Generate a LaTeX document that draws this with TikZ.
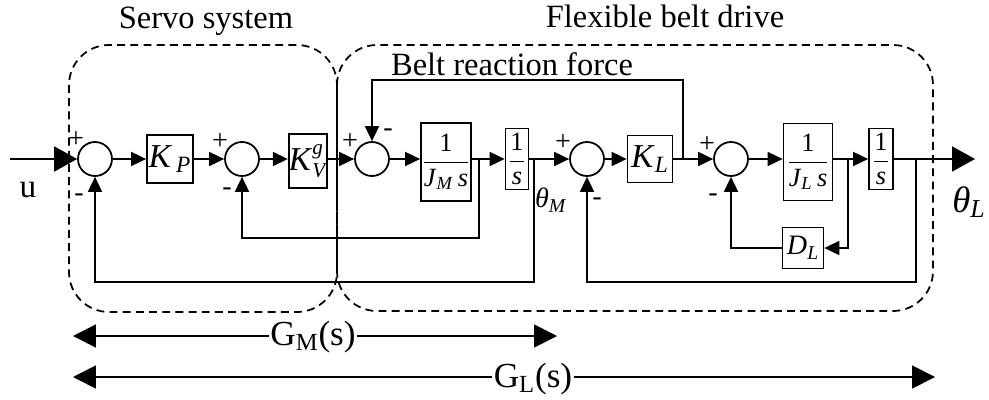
\documentclass[tikz,border=0pt]{standalone}
\usepackage{fontspec}
\setmainfont{Liberation Serif}
\usetikzlibrary{arrows.meta}
\newcommand{\setfs}[1]{\fontsize{#1}{#1}\selectfont}

\begin{document}
\begin{tikzpicture}[
    x=0.02cm, y=-0.02cm,
    line width=1pt,
    every node/.style={inner sep=0pt},
    sumnode/.style={draw, circle, minimum size=0.68cm},
    blockbox/.style={draw, fill=white, font=\setfs{19}},
    fracbox/.style={draw, fill=white, font=\setfs{15}},
    sign/.style={font=\setfs{16}},
    title/.style={font=\setfs{18.5}, anchor=base},
    sig/.style={-{Triangle[length=0.3cm,width=0.28cm]}},
    bigsig/.style={-{Triangle[length=0.46cm,width=0.5cm]}},
    spanarrow/.style={{Triangle[length=0.46cm,width=0.46cm]}-{Triangle[length=0.46cm,width=0.46cm]}},
    group/.style={dash pattern=on 4.5pt off 3pt, rounded corners=0.8cm}
]
  \useasboundingbox (0,0) rectangle (989,399);

  % subsystem frames
  \draw[group] (69,45) rectangle (337,312);
  \draw[group] (337,45) rectangle (933,311);
  \node[title] (servo) at (206,29) {Servo system};
  \node[title] (belt) at (665,28) {Flexible belt drive};
  \node[title] (force) at (512,75) {Belt reaction force};

  % forward path
  \coordinate (in) at (10,159);
  \node[sumnode] (sumA) at (95,159) {};
  \node[blockbox, minimum width=0.92cm, minimum height=0.96cm] (kp) at (170,159) {\textit{K}\textsubscript{\,\textit{P}}};
  \node[sumnode] (sumB) at (242,159) {};
  \node[blockbox, minimum width=0.76cm, minimum height=1.08cm] (kv) at (308,161) {\textit{K}\raisebox{-4pt}{\setfs{12}\shortstack[l]{\textit{g}\\\textit{V}}}};
  \node[sumnode] (sumC) at (372,159) {};
  \node[fracbox, minimum width=1.0cm, minimum height=1.56cm] (jm) at (446,162) {$\displaystyle\frac{\mbox{1}}{\mbox{\textit{J}\textsubscript{\textit{M}}\,\textit{s}}}$};
  \node[fracbox, minimum width=0.46cm, minimum height=1.22cm] (intM) at (517,159) {$\displaystyle\frac{\mbox{1}}{\mbox{\textit{s}}}$};
  \node[sumnode] (sumD) at (587,159) {};
  \node[blockbox, minimum width=0.9cm, minimum height=0.94cm] (kl) at (650,159) {\textit{K}\textsubscript{\textit{L}}};
  \node[sumnode] (sumE) at (731,159) {};
  \node[fracbox, minimum width=0.98cm, minimum height=1.54cm] (jl) at (808,162) {$\displaystyle\frac{\mbox{1}}{\mbox{\textit{J}\textsubscript{\textit{L}}\,\textit{s}}}$};
  \node[fracbox, minimum width=0.48cm, minimum height=1.22cm] (intL) at (881,159) {$\displaystyle\frac{\mbox{1}}{\mbox{\textit{s}}}$};
  \node[fracbox, font=\setfs{16}, minimum width=0.82cm, minimum height=0.82cm] (dl) at (803,248) {\textit{D}\textsubscript{\textit{L}}};
  \coordinate (out) at (975,159);

  % branch points
  \coordinate (bV) at (479,159);
  \coordinate (thM) at (534,159);
  \coordinate (bF) at (683,159);
  \coordinate (bD) at (848,159);
  \coordinate (thL) at (916,159);

  \draw[bigsig] (in) -- (sumA);
  \draw[sig] (sumA) -- (kp);
  \draw[sig] (kp) -- (sumB);
  \draw[sig] (sumB) -- (sumB -| kv.west);
  \draw[sig] (sumC -| kv.east) -- (sumC);
  \draw[sig] (sumC) -- (sumC -| jm.west);
  \draw[sig] (bV -| jm.east) -- (intM);
  \draw[sig] (intM) -- (sumD);
  \draw[sig] (sumD) -- (kl);
  \draw[sig] (kl) -- (sumE);
  \draw[sig] (sumE) -- (sumE -| jl.west);
  \draw[sig] (bD -| jl.east) -- (intL);
  \draw[bigsig] (intL) -- (out);

  % feedback paths
  \draw[sig] (bV) -- ++(0,79) -| (sumB);
  \draw[sig] (thM) -- ++(0,123) -| (sumA);
  \draw[sig] (bF) -- ++(0,-79) -| (sumC);
  \draw[sig] (bD) |- (dl);
  \draw[sig] (dl) -| (sumE);
  \draw[sig] (thL) -- ++(0,123) -| (sumD);

  % signs
  \node[sign] (pA) at (76,140) {+};
  \node[sign] (mA) at (79,198) {-};
  \node[sign] (pB) at (220,142) {+};
  \node[sign] (mB) at (227,192) {-};
  \node[sign] (pC) at (350,142) {+};
  \node[sign] (mC) at (388,133) {-};
  \node[sign] (pD) at (563,143) {+};
  \node[sign] (mD) at (597,202) {-};
  \node[sign] (pE) at (707,145) {+};
  \node[sign] (mE) at (713,198) {-};

  % signal labels
  \node[font=\setfs{19}] (u) at (28,190) {u};
  \node[font=\setfs{16}] (thetaM) at (551,200) {\textit{θ}\textsubscript{\textit{M}}};
  \node[font=\setfs{21}] (thetaL) at (969,202) {\textit{θ}\textsubscript{\textit{L}}};

  % transfer function spans
  \coordinate (gmL) at (73,336);
  \coordinate (gmR) at (557,336);
  \coordinate (glL) at (73,377);
  \coordinate (glR) at (935,377);
  \draw[spanarrow] (gmL) -- (gmR);
  \draw[spanarrow] (glL) -- (glR);
  \node[fill=white, inner sep=1pt, font=\setfs{20}] (gm) at (313,337) {G\textsubscript{M}(s)};
  \node[fill=white, inner sep=1pt, font=\setfs{20}] (gl) at (533,379) {G\textsubscript{L}(s)};
\end{tikzpicture}
\end{document}
